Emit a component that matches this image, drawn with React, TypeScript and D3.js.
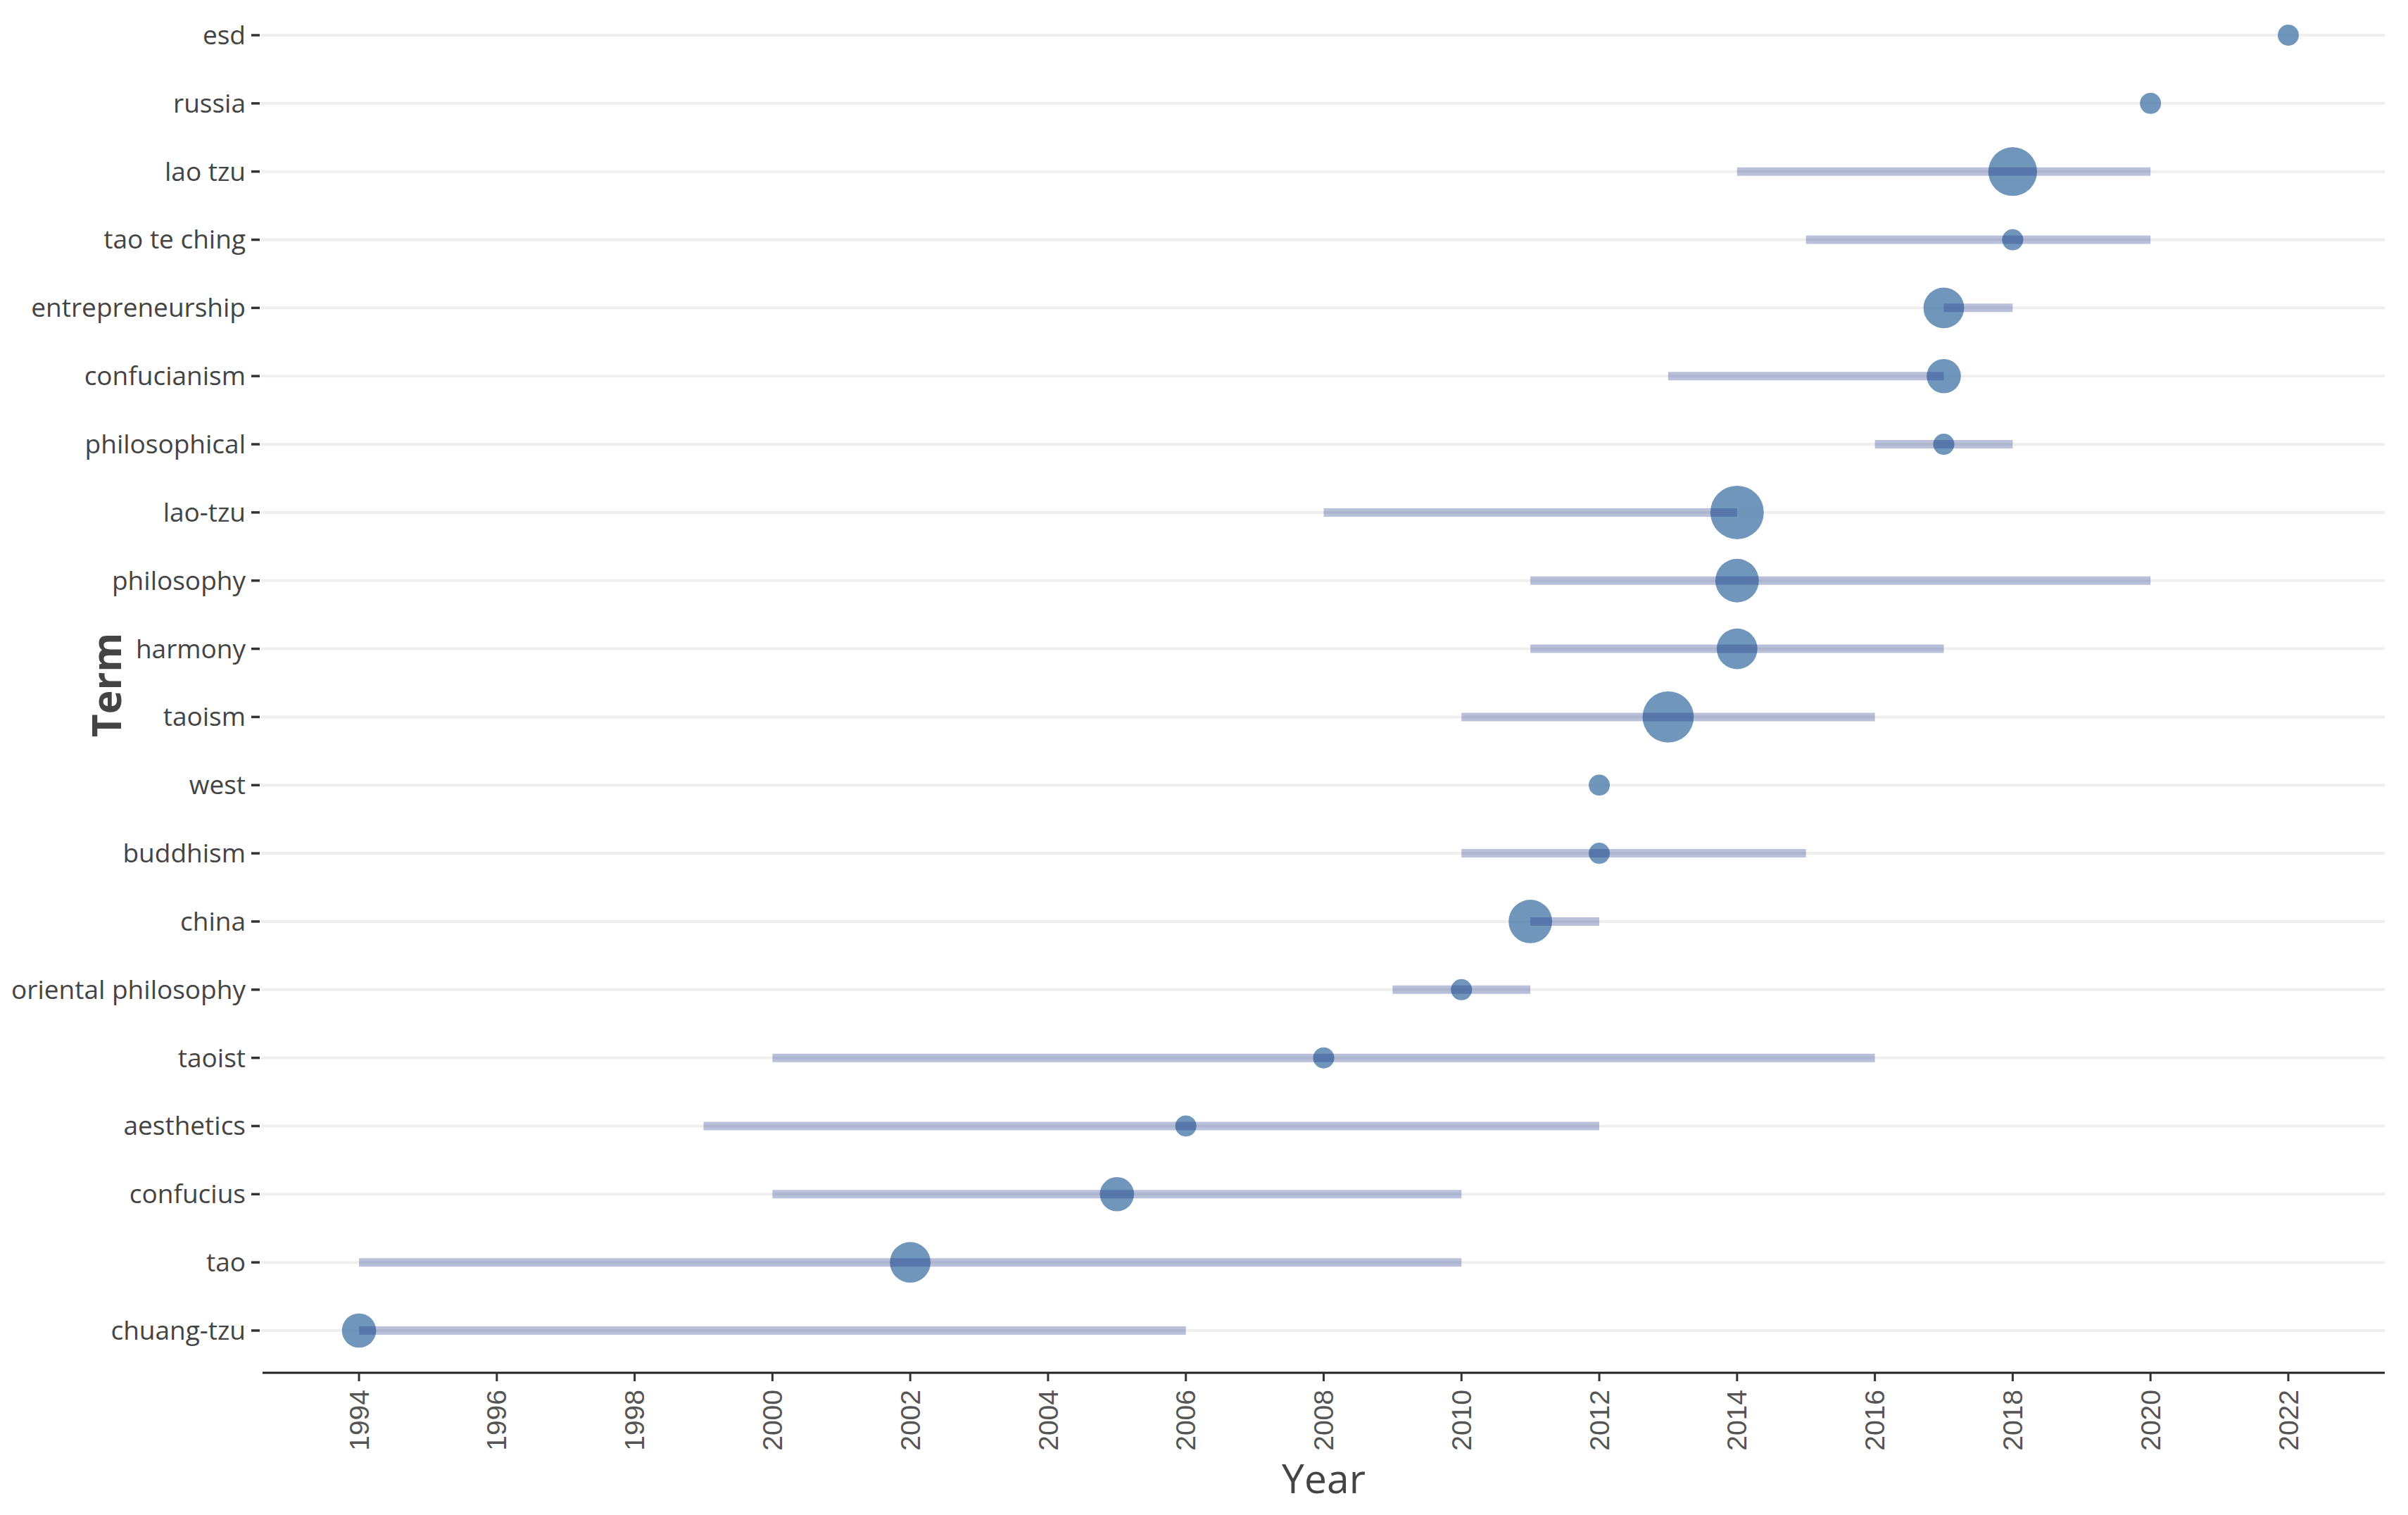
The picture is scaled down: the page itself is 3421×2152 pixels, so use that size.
import React from "react";
import * as d3 from "d3";

const terms = ["esd","russia","lao tzu","tao te ching","entrepreneurship","confucianism","philosophical","lao-tzu","philosophy","harmony","taoism","west","buddhism","china","oriental philosophy","taoist","aesthetics","confucius","tao","chuang-tzu"];
const yearQ1 = [2022,2020,2014,2015,2017,2013,2016,2008,2011,2011,2010,2012,2010,2011,2009,2000,1999,2000,1994,1994];
const yearMedian = [2022,2020,2018,2018,2017,2017,2017,2014,2014,2014,2013,2012,2012,2011,2010,2008,2006,2005,2002,1994];
const yearQ3 = [2022,2020,2020,2020,2018,2017,2018,2014,2020,2017,2016,2012,2015,2012,2011,2016,2012,2010,2010,2006];
const freq = [3,3,11,3,8,6,3,13,9,8,12,3,3,9,3,3,3,6,8,6];
const xTicks = [1994,1996,1998,2000,2002,2004,2006,2008,2010,2012,2014,2016,2018,2020,2022];

const W = 3421, H = 2152;
const plotLeft = 373, plotRight = 3388, axisY = 1950;

export default function App() {
  const x = d3.scaleLinear().domain([1992.6, 2023.4]).range([plotLeft, plotRight]);
  const y = d3.scalePoint<string>().domain(terms).range([50, 1890]);
  const area = d3.scaleLinear().domain([3, 13]).range([15 * 15, 38 * 38]);
  const r = (f: number) => Math.sqrt(area(f));
  const rows = terms.map((t, i) => ({ t, q1: yearQ1[i], med: yearMedian[i], q3: yearQ3[i], f: freq[i] }));

  return (
    <svg width={W} height={H} style={{ position: "absolute", left: 0, top: 0, background: "#fff" }}>
      {/* gridlines */}
      {rows.map((d) => (
        <line key={"g" + d.t} x1={plotLeft - 2} x2={plotRight} y1={y(d.t)} y2={y(d.t)} stroke="#efefef" strokeWidth={4} />
      ))}
      {/* y ticks & labels */}
      {rows.map((d) => (
        <g key={"yl" + d.t}>
          <line x1={357} x2={369} y1={y(d.t)} y2={y(d.t)} stroke="#333" strokeWidth={3.5} />
          <text x={349} y={y(d.t)} dy="0.35em" textAnchor="end" fontFamily="'Open Sans', sans-serif" fontSize={37} fill="#444">{d.t}</text>
        </g>
      ))}
      {/* dots */}
      {rows.map((d) => (
        <circle key={"c" + d.t} cx={x(d.med)} cy={y(d.t)} r={r(d.f)} fill="#4c7cab" fillOpacity={0.8} />
      ))}
      {/* bars */}
      {rows.map((d) => (
        d.q3 > d.q1 ? (
          <line key={"b" + d.t} x1={x(d.q1)} x2={x(d.q3)} y1={y(d.t)} y2={y(d.t)} stroke="rgb(36,60,138)" strokeOpacity={0.32} strokeWidth={12} />
        ) : null
      ))}
      {/* x axis */}
      <line x1={plotLeft} x2={plotRight} y1={axisY} y2={axisY} stroke="#222" strokeWidth={3} />
      {xTicks.map((t) => (
        <g key={"xt" + t}>
          <line x1={x(t)} x2={x(t)} y1={axisY} y2={axisY + 12} stroke="#333" strokeWidth={3} />
          <text transform={`translate(${x(t)},${axisY + 24}) rotate(-90)`} dy="0.35em" textAnchor="end" fontFamily="'Liberation Sans', Arial, sans-serif" fontSize={39} fill="#555">{t}</text>
        </g>
      ))}
      {/* titles */}
      <text x={(plotLeft + plotRight) / 2} y={2121} textAnchor="middle" fontFamily="'Open Sans', sans-serif" fontSize={57} fill="#444">Year</text>
      <text transform={`translate(172,973) rotate(-90)`} textAnchor="middle" fontFamily="'Open Sans', sans-serif" fontWeight="bold" fontSize={57} fill="#444">Term</text>
    </svg>
  );
}
